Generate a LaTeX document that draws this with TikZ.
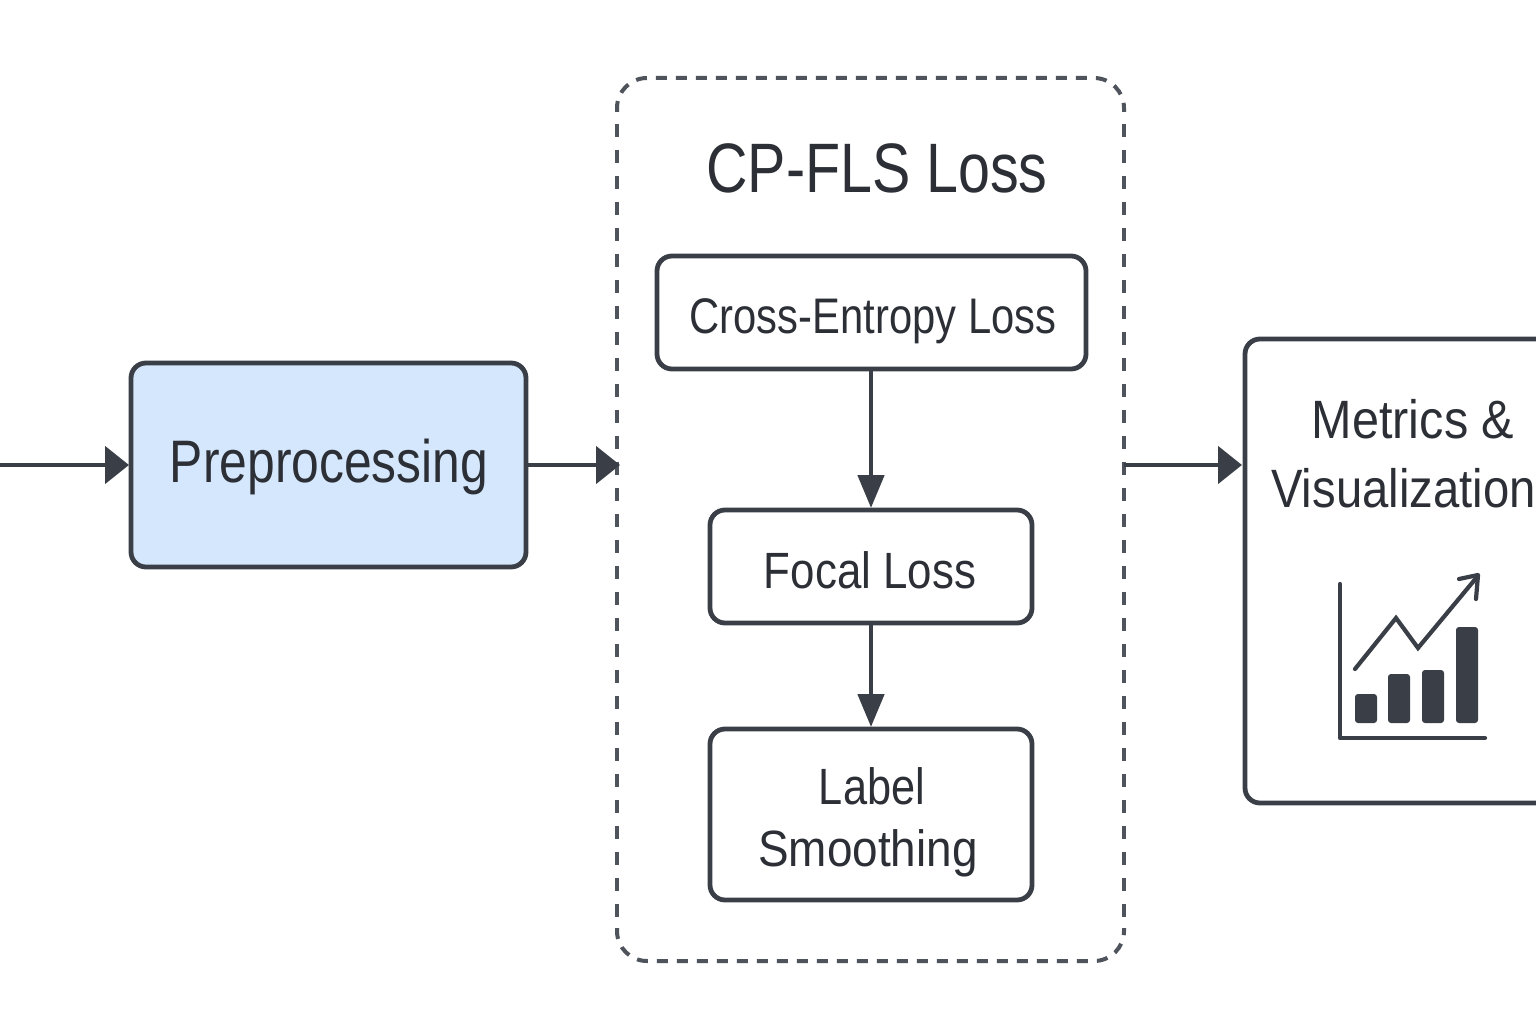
\documentclass[tikz,border=0pt]{standalone}
\usepackage{fontspec}
\setmainfont{Liberation Sans}
\usetikzlibrary{arrows.meta}
\definecolor{ink}{HTML}{3A3F47}
\definecolor{txt}{HTML}{2C3036}
\definecolor{dashc}{HTML}{4E535C}
\definecolor{paleblue}{HTML}{D5E7FC}
\begin{document}
\begin{tikzpicture}[x=1pt,y=-1pt,
 box/.style={draw=ink,line width=4.8pt,rounded corners=15pt,fill=white},
 conn/.style={draw=ink,line width=4.8pt},
 hconn/.style={conn,-{Triangle[length=24pt,width=37pt]}},
 vconn/.style={conn,-{Triangle[length=33pt,width=26pt]}},
 dashh/.style={draw=dashc,line width=4pt,dash pattern=on 11pt off 9pt,rounded corners=30pt},
 dashv/.style={draw=dashc,line width=3.6pt,dash pattern=on 13pt off 13pt},
 lab/.style={text=txt,align=center,inner sep=0pt,anchor=base}]
\useasboundingbox (0,0) rectangle (1536,1024);
\path[fill=white] (0,0) rectangle (1536,1024);
\begin{scope}
\clip (0,0) rectangle (1536,1024);
% dashed container: top and bottom runs, then the sides
\draw[dashh] (617,112) -- (617,78) -- (1124,78) -- (1124,112);
\draw[dashh] (617,928) -- (617,961) -- (1124,961) -- (1124,928);
\draw[dashv] (617,124) -- (617,920);
\draw[dashv] (1124,124) -- (1124,920);
\coordinate (cpl) at (620,465);
\coordinate (cpr) at (1124,465);
\coordinate (start) at (0,465);
\draw[box,fill=paleblue] (131,363) rectangle (526,567);
\coordinate (preL) at (129,465); \coordinate (preR) at (526,465);
\node[lab,xscale=.83,font=\fontsize{60}{64}\selectfont] (pre) at (329,482) {Preprocessing};
\node[lab,xscale=.82,font=\fontsize{70}{74}\selectfont] (title) at (877,193) {CP-FLS Loss};
\draw[box] (657,256) rectangle (1086,369);
\coordinate (ceB) at (871,369);
\node[lab,xscale=.835,font=\fontsize{50}{54}\selectfont] (ce) at (873,333) {Cross-Entropy Loss};
\draw[box] (710,510) rectangle (1032,623);
\coordinate (flT) at (871,508); \coordinate (flB) at (871,623);
\node[lab,xscale=.86,font=\fontsize{51}{55}\selectfont] (fl) at (870,588) {Focal Loss};
\draw[box] (710,729) rectangle (1032,900);
\coordinate (lsT) at (871,727);
\node[lab,xscale=.85,font=\fontsize{51}{55}\selectfont] (l1) at (872,804) {Label};
\node[lab,xscale=.9,font=\fontsize{51}{55}\selectfont] (l2) at (868,866) {Smoothing};
\draw[box] (1245,339) rectangle (1600,803);
\coordinate (mL) at (1242,465);
\node[lab,xscale=.9,font=\fontsize{54}{58}\selectfont] (m1) at (1413,438) {Metrics \&};
\node[lab,xscale=.875,font=\fontsize{54}{58}\selectfont] (m2) at (1403.5,507) {Visualization};
\draw[hconn] (start) -- (preL);
\draw[hconn] (preR) -- (cpl);
\draw[hconn] (cpr) -- (mL);
\draw[vconn] (ceB) -- (flT);
\draw[vconn] (flB) -- (lsT);
% chart icon
\draw[ink,line width=4.2pt,line cap=round,line join=round] (1340,584) -- (1340,738) -- (1485,738);
\foreach \x/\t in {1355/694,1388/674,1422/670,1456/627}
 \fill[ink,rounded corners=3pt] (\x,\t) rectangle (\x+22,723);
\draw[ink,line width=4.2pt,line cap=round,line join=miter] (1355,669) -- (1396,618) -- (1418,648) -- (1477,577);
\draw[ink,line width=4.2pt,line cap=round,line join=round] (1459,579) -- (1478,575) -- (1476,599);
\end{scope}
\end{tikzpicture}
\end{document}
